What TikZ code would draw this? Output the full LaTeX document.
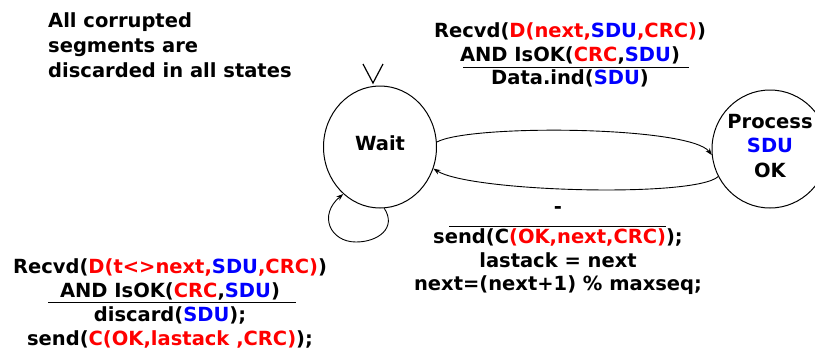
\documentclass[tikz,border=0pt]{standalone}
\usepackage{fontspec}
\setmainfont{DejaVu Sans}
\usetikzlibrary{shapes.geometric,arrows.meta}
\begin{document}
\begin{tikzpicture}[x=1pt,y=-1pt,
  txt/.style={font=\fontsize{19.5}{23.5}\selectfont\bfseries, inner sep=0pt, align=center},
  state/.style={draw, ellipse, line width=1pt, inner sep=0pt},
  conn/.style={line width=0.9pt, -{Stealth[length=7pt,width=5pt]}},
  rulel/.style={line width=1pt}]
\useasboundingbox (0,0) rectangle (815,349);
\node[txt, align=left, anchor=north west, font=\fontsize{19.5}{25}\selectfont\bfseries] (note) at (48,12) {All corrupted\\segments are\\discarded in all states};
\node[state, minimum width=113pt, minimum height=122pt] (wait) at (380,147) {};
\node[txt] (waitlbl) at (380,143) {Wait};
\node[state, minimum width=116pt, minimum height=118pt] (proc) at (770,149) {};
\node[txt, font=\fontsize{19.5}{24.5}\selectfont\bfseries] (proclbl) at (770,146) {Process\\\textcolor{blue}{SDU}\\OK};
% start marker
\coordinate (v1) at (363,64); \coordinate (v2) at (373,83); \coordinate (v3) at (383,64);
\draw[line width=1.2pt] (v1) -- (v2) -- (v3);
% transitions
\draw[conn] (wait.5) .. controls (470,124) and (690,126) .. (proc.186);
\draw[conn] (proc.208) .. controls (695,198) and (470,192) .. (wait.-22);
\draw[conn] (wait.-86) .. controls (397,228) and (378,242) .. (356,242) .. controls (330,242) and (318,215) .. (wait.-128);
% top label
\node[txt] (toplbl) at (570,55) {Recvd(\textcolor{red}{D(next,\textcolor{blue}{SDU},CRC)})\\AND IsOK(\textcolor{red}{CRC},\textcolor{blue}{SDU})\\Data.ind(\textcolor{blue}{SDU})};
\coordinate (t1) at (463,67); \coordinate (t2) at (689,67);
\draw[rulel] (t1) -- (t2);
% bottom right label
\node[txt] (dash) at (558,210) {-};
\coordinate (b1) at (449,226); \coordinate (b2) at (666,226);
\draw[rulel] (b1) -- (b2);
\node[txt] (brlbl) at (558,262) {send(C\textcolor{red}{(OK,next,CRC)});\\lastack = next\\next=(next+1) \% maxseq;};
% bottom left label
\node[txt] (bllbl) at (170,303.5) {Recvd(\textcolor{red}{D(t<>next,\textcolor{blue}{SDU},CRC)})\\AND IsOK(\textcolor{red}{CRC},\textcolor{blue}{SDU})\\[1pt]discard(\textcolor{blue}{SDU});\\send(\textcolor{red}{C(OK,lastack ,CRC)});};
\coordinate (l1) at (48,302.5); \coordinate (l2) at (296,302.5);
\draw[rulel] (l1) -- (l2);
\end{tikzpicture}
\end{document}
